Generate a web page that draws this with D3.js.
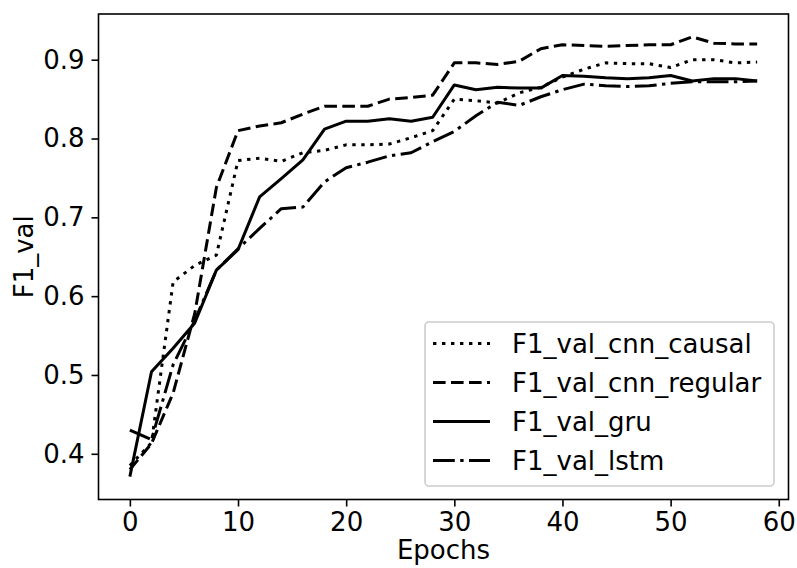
<!DOCTYPE html>
<html lang="en">
<head>
<meta charset="UTF-8"/>
<title>F1_val per epoch</title>
<script src="https://d3js.org/d3.v7.min.js"></script>
<style>
  body { margin: 0; background: #fff; }
  text { font-family: "DejaVu Sans", sans-serif; }
</style>
</head>
<body>
<div id="chart"></div>
<script>
    //Data
    var epochs = [0, 2, 4, 6, 8, 10, 12, 14, 16, 18, 20, 22, 24, 26, 28,
                  30, 32, 34, 36, 38, 40, 42, 44, 46, 48, 50, 52, 54, 56, 58];

    var cnnCausal = [0.385, 0.414, 0.618, 0.639, 0.652, 0.772, 0.775, 0.771, 0.782, 0.785,
                     0.792, 0.792, 0.793, 0.801, 0.810, 0.850, 0.848, 0.845, 0.858, 0.865,
                     0.878, 0.888, 0.896, 0.895, 0.895, 0.890, 0.900, 0.900, 0.896, 0.897];

    var cnnRegular = [0.380, 0.413, 0.477, 0.578, 0.738, 0.810, 0.816, 0.820, 0.831, 0.841,
                      0.841, 0.841, 0.850, 0.852, 0.855, 0.896, 0.896, 0.894, 0.898, 0.914,
                      0.919, 0.918, 0.917, 0.918, 0.919, 0.919, 0.929, 0.921, 0.920, 0.920];

    var gru = [0.371, 0.504, 0.534, 0.566, 0.633, 0.659, 0.726, 0.749, 0.773, 0.812,
               0.822, 0.822, 0.825, 0.822, 0.827, 0.868, 0.862, 0.865, 0.864, 0.864,
               0.880, 0.879, 0.877, 0.876, 0.877, 0.880, 0.873, 0.876, 0.876, 0.873];

    var lstm = [0.430, 0.418, 0.513, 0.569, 0.633, 0.660, 0.686, 0.711, 0.713, 0.745,
                0.763, 0.770, 0.778, 0.782, 0.796, 0.809, 0.829, 0.846, 0.842, 0.853,
                0.862, 0.869, 0.867, 0.866, 0.867, 0.870, 0.872, 0.872, 0.872, 0.873];

    var seriesNames = ["F1_val_cnn_causal", "F1_val_cnn_regular", "F1_val_gru", "F1_val_lstm"];
    var seriesValues = [cnnCausal, cnnRegular, gru, lstm];
    var seriesDash = ["3.4,5.6", "12.6,5.4", "none", "21.8,5.4,3.4,5.4"];

    var xTicks = [0, 10, 20, 30, 40, 50, 60];
    var yTicks = [0.4, 0.5, 0.6, 0.7, 0.8, 0.9];

    //Window size and plot box
    var w = 797;
    var h = 568;
    var plotLeft = 98.5, plotRight = 788.5, plotTop = 14, plotBottom = 499.5;
    var fontSize = 26;

    var svg = d3.select("#chart")
                .append("svg")
                .attr("width", w)
                .attr("height", h);

    //Scales, with matplotlib style 5% margins
    var xScale = d3.scaleLinear()
                .domain([-2.9, 60.9])
                .range([plotLeft, plotRight]);

    var yScale = d3.scaleLinear()
                .domain([0.342, 0.958])
                .range([plotBottom, plotTop]);

    //Lines
    var line = d3.line()
                .x(function(d, i) { return xScale(epochs[i]); })
                .y(function(d) { return yScale(d); });

    svg.append("g")
        .selectAll("path")
        .data(seriesValues)
        .enter()
        .append("path")
        .attr("d", line)
        .attr("fill", "none")
        .attr("stroke", "#000")
        .attr("stroke-width", 3)
        .attr("stroke-linejoin", "round")
        .attr("stroke-dasharray", function(d, i) { return seriesDash[i]; });

    //Axes
    var xAxis = d3.axisBottom(xScale)
                .tickValues(xTicks)
                .tickFormat(d3.format("d"))
                .tickSize(7)
                .tickPadding(6);

    var yAxis = d3.axisLeft(yScale)
                .tickValues(yTicks)
                .tickFormat(d3.format(".1f"))
                .tickSize(7)
                .tickPadding(7);

    var gx = svg.append("g")
        .attr("transform", "translate(0," + plotBottom + ")")
        .call(xAxis);

    var gy = svg.append("g")
        .attr("transform", "translate(" + plotLeft + ",0)")
        .call(yAxis);

    [gx, gy].forEach(function(g) {
        g.select(".domain").remove();
        g.selectAll(".tick line").attr("stroke", "#000").attr("stroke-width", 1.6);
        g.selectAll(".tick text")
            .attr("fill", "#000")
            .attr("font-size", fontSize + "px")
            .attr("font-family", "DejaVu Sans");
    });
    gx.selectAll(".tick text").attr("dy", "0.71em");

    //Frame
    svg.append("rect")
        .attr("x", plotLeft)
        .attr("y", plotTop)
        .attr("width", plotRight - plotLeft)
        .attr("height", plotBottom - plotTop)
        .attr("fill", "none")
        .attr("stroke", "#000")
        .attr("stroke-width", 1.6);

    //Axis labels
    svg.append("text")
        .attr("x", (plotLeft + plotRight) / 2)
        .attr("y", 559)
        .attr("text-anchor", "middle")
        .attr("font-size", fontSize + "px")
        .text("Epochs");

    svg.append("text")
        .attr("transform", "translate(33," + ((plotTop + plotBottom) / 2) + ") rotate(-90)")
        .attr("text-anchor", "middle")
        .attr("font-size", fontSize + "px")
        .text("F1_val");

    //Legend
    var legend = svg.append("g");

    legend.append("rect")
        .attr("x", 425)
        .attr("y", 322)
        .attr("width", 349)
        .attr("height", 164)
        .attr("rx", 4)
        .attr("fill", "#fff")
        .attr("fill-opacity", 0.8)
        .attr("stroke", "#ccc")
        .attr("stroke-width", 1.6);

    var rows = legend.selectAll("g.row")
        .data(seriesNames)
        .enter()
        .append("g")
        .attr("class", "row")
        .attr("transform", function(d, i) { return "translate(0," + (343.5 + i * 39) + ")"; });

    rows.append("line")
        .attr("x1", 433)
        .attr("x2", 490)
        .attr("stroke", "#000")
        .attr("stroke-width", 3)
        .attr("stroke-dasharray", function(d, i) { return seriesDash[i]; });

    rows.append("text")
        .attr("x", 512)
        .attr("y", 9)
        .attr("font-size", fontSize + "px")
        .text(function(d) { return d; });
</script>
</body>
</html>
